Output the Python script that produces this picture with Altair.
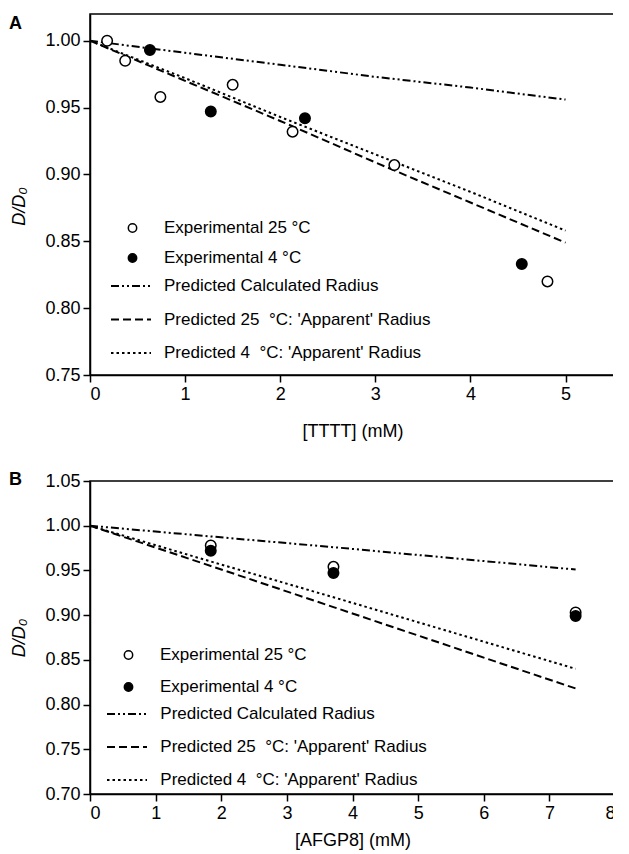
import altair as alt
import pandas as pd

FONT = "Liberation Sans"

EXP25 = "Experimental 25 °C"
EXP4 = "Experimental 4 °C"
CALC = "Predicted Calculated Radius"
P25 = "Predicted 25\u00a0\u00a0°C: 'Apparent' Radius"
P4 = "Predicted 4\u00a0\u00a0°C: 'Apparent' Radius"

# ---- Panel A : [TTTT] ----
a_exp25_x = [0.18, 0.37, 0.74, 1.50, 2.13, 3.20, 4.81]
a_exp25_y = [1.000, 0.985, 0.958, 0.967, 0.932, 0.907, 0.820]
a_exp4_x = [0.63, 1.27, 2.26, 4.54]
a_exp4_y = [0.993, 0.947, 0.942, 0.833]
a_pred_x = [0, 1, 2, 3, 4, 5]
a_pred_calc = [1.000, 0.991, 0.982, 0.973, 0.965, 0.956]
a_pred_25 = [1.000, 0.970, 0.940, 0.909, 0.879, 0.849]
a_pred_4 = [1.000, 0.972, 0.943, 0.915, 0.887, 0.858]
a_xticks = [0, 1, 2, 3, 4, 5]
a_yticks = [0.75, 0.80, 0.85, 0.90, 0.95, 1.00]

# ---- Panel B : [AFGP8] ----
b_exp_x = [1.84, 3.71, 7.40]
b_exp25_y = [0.978, 0.954, 0.903]
b_exp4_y = [0.972, 0.947, 0.899]
b_pred_x = [0, 1.84, 3.71, 7.40]
b_pred_calc = [1.000, 0.988, 0.976, 0.951]
b_pred_25 = [1.000, 0.955, 0.909, 0.818]
b_pred_4 = [1.000, 0.960, 0.920, 0.840]
b_xticks = [0, 1, 2, 3, 4, 5, 6, 7, 8]
b_yticks = [0.70, 0.75, 0.80, 0.85, 0.90, 0.95, 1.00, 1.05]


def pts_frame(x25, y25, x4, y4):
    rows = [{"x": x, "y": y, "series": EXP25} for x, y in zip(x25, y25)]
    rows += [{"x": x, "y": y, "series": EXP4} for x, y in zip(x4, y4)]
    return pd.DataFrame(rows)


def line_frame(xs, calc, p25, p4):
    rows = []
    for name, ys in ((CALC, calc), (P25, p25), (P4, p4)):
        rows += [{"x": x, "y": y, "series": name} for x, y in zip(xs, ys)]
    return pd.DataFrame(rows)


def panel(letter, pts, lines, xdom, xticks, ydom, yticks, xtitle, w, h,
          letter_y, x_tp, y_title_y, pleg, lleg):
    x = alt.X("x:Q", scale=alt.Scale(domain=xdom, nice=False, zero=False),
              axis=alt.Axis(values=xticks, format="d", title=xtitle,
                            titlePadding=x_tp))
    yaxis_kw = dict(values=yticks, format=".2f", title="D/D₀",
                    titleFontStyle="italic", titlePadding=16)
    if y_title_y is not None:
        yaxis_kw["titleY"] = y_title_y
    y = alt.Y("y:Q", scale=alt.Scale(domain=ydom, nice=False, zero=False),
              axis=alt.Axis(**yaxis_kw))
    lines_layer = alt.Chart(lines).mark_line(
        color="black", strokeWidth=2, clip=True
    ).encode(
        x=x, y=y,
        strokeDash=alt.StrokeDash(
            "series:N",
            scale=alt.Scale(domain=[CALC, P25, P4],
                            range=[[8, 3, 2, 3, 2, 3], [8, 4], [2.5, 3]]),
            legend=alt.Legend(
                title=None, orient="none", legendX=lleg[0], legendY=lleg[1],
                symbolType="stroke", symbolSize=1600, symbolStrokeWidth=2,
                symbolStrokeColor="black", labelOffset=lleg[3],
                rowPadding=lleg[2], labelFontSize=17, labelFont=FONT,
                labelColor="black", labelLimit=400, padding=0,
            ),
        ),
    )
    pts_layer = alt.Chart(pts).mark_point(
        shape="circle", filled=True, size=110, stroke="black",
        strokeWidth=1.5, opacity=1
    ).encode(
        x=x, y=y,
        fill=alt.Fill(
            "series:N",
            scale=alt.Scale(domain=[EXP25, EXP4], range=["white", "black"]),
            legend=alt.Legend(
                title=None, orient="none", legendX=pleg[0], legendY=pleg[1],
                symbolType="circle", symbolSize=70, symbolStrokeWidth=1.5,
                symbolStrokeColor="black", labelOffset=pleg[3],
                rowPadding=pleg[2], labelFontSize=17, labelFont=FONT,
                labelColor="black", labelLimit=400, padding=0,
            ),
        ),
    )
    letter_layer = alt.Chart(pd.DataFrame({"t": [letter]})).mark_text(
        font=FONT, fontSize=18, fontWeight="bold", align="left",
        baseline="middle", color="black"
    ).encode(text="t:N", x=alt.value(-81), y=alt.value(letter_y))
    return alt.layer(lines_layer, pts_layer, letter_layer).resolve_scale(
        fill="independent", strokeDash="independent"
    ).properties(width=w, height=h)


chart_a = panel(
    "A",
    pts_frame(a_exp25_x, a_exp25_y, a_exp4_x, a_exp4_y),
    line_frame(a_pred_x, a_pred_calc, a_pred_25, a_pred_4),
    [0, 5.52], a_xticks, [0.75, 1.02], a_yticks, "[TTTT] (mM)",
    525, 361, 10, 19, 192, (34, 205.5, 12, 23), (20, 251, 4.5, 12),
)
chart_b = panel(
    "B",
    pts_frame(b_exp_x, b_exp25_y, b_exp_x, b_exp4_y),
    line_frame(b_pred_x, b_pred_calc, b_pred_25, b_pred_4),
    [0, 8], b_xticks, [0.70, 1.05], b_yticks, "[AFGP8] (mM)",
    525, 313, -1, 9, None, (30, 165.5, 14, 23), (16, 212, 4, 12.3),
)

chart = alt.vconcat(chart_a, chart_b, spacing=29).resolve_scale(
    fill="independent", strokeDash="independent", x="independent",
    y="independent"
).resolve_legend(fill="independent", strokeDash="independent").properties(
    padding={"left": 0, "top": 5, "right": -4, "bottom": 0}
).configure_axis(
    labelFont=FONT, titleFont=FONT, labelFontSize=18, titleFontSize=18,
    titleFontWeight="normal", grid=False, domainColor="black", domainWidth=1.5,
    tickColor="black", tickWidth=1.5, tickSize=7, labelPadding=3,
    labelColor="black", titleColor="black",
).configure_view(stroke="black", strokeWidth=1.5)

chart.save("out.html", embed_options={"renderer": "svg", "actions": False})
